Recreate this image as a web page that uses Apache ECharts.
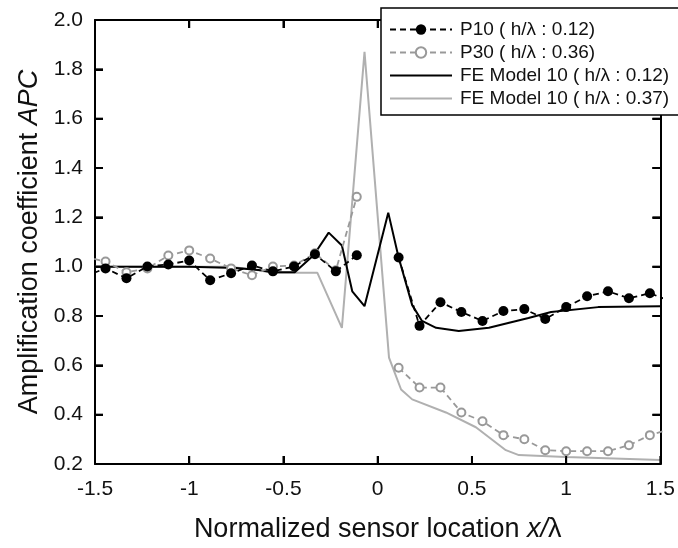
<!DOCTYPE html>
<html>
<head>
<meta charset="utf-8">
<script src="https://cdn.jsdelivr.net/npm/echarts@6/dist/echarts.min.js"></script>
<style>
html,body{margin:0;padding:0;background:#fff;}
#chart{width:678px;height:548px;}
</style>
</head>
<body>
<div id="chart"></div>
<script>
// ---- data ----
const xTicks = [-1.5, -1, -0.5, 0, 0.5, 1, 1.5];
const yTicks = [0.2, 0.4, 0.6, 0.8, 1.0, 1.2, 1.4, 1.6, 1.8, 2.0];

const seriesNames = [
  'P10 ( h/λ : 0.12)',
  'P30 ( h/λ : 0.36)',
  'FE Model 10 ( h/λ : 0.12)',
  'FE Model 10 ( h/λ : 0.37)'
];

// measured sensor positions (x/λ)
const xSensors = [-1.556,-1.444,-1.333,-1.222,-1.111,-1.0,-0.889,-0.778,-0.667,-0.556,-0.444,-0.333,-0.222,-0.111,0,
  0.111,0.222,0.333,0.444,0.556,0.667,0.778,0.889,1.0,1.111,1.222,1.333,1.444,1.556];
const p10 = [0.96,0.993,0.953,1.001,1.009,1.025,0.945,0.973,1.005,0.981,1.001,1.05,0.981,1.046,null,
  1.037,0.760,0.856,0.816,0.780,0.82,0.828,0.788,0.836,0.88,0.9,0.872,0.892,0.86];
const p30 = [1.04,1.021,0.977,0.993,1.045,1.066,1.033,0.993,0.965,1.001,1.005,1.054,0.985,1.283,null,
  0.59,0.51,0.51,0.409,0.373,0.317,0.30,0.256,0.252,0.252,0.252,0.276,0.317,0.343];

// FE model 10 (h/λ 0.12)
const xFE1 = [-1.5,-1.0,-0.75,-0.62,-0.56,-0.44,-0.34,-0.26,-0.19,-0.135,-0.07,0.056,0.11,0.183,0.235,0.31,0.43,0.59,0.80,0.92,1.17,1.5];
const yFE1 = [1.0,1.0,0.995,0.985,0.977,0.977,1.046,1.138,1.086,0.90,0.84,1.219,1.04,0.844,0.78,0.752,0.739,0.752,0.792,0.816,0.836,0.84];

// FE model 10 (h/λ 0.37)
const xFE2 = [-1.5,-0.79,-0.67,-0.56,-0.32,-0.19,-0.07,0.06,0.124,0.183,0.362,0.521,0.68,0.749,0.997,1.172,1.5];
const yFE2 = [1.0,1.0,0.99,0.975,0.975,0.752,1.871,0.631,0.502,0.462,0.409,0.349,0.256,0.236,0.228,0.224,0.216];

// ---- chart ----
const FONT = 'Liberation Sans, Arial, sans-serif';
const TICK_LEN = 8;
const pair = (xs, ys) => xs.map((x, i) => [x, ys[i] === null ? '-' : ys[i]]);

const mkLine = () => ({show: true, onZero: false, lineStyle: {color: '#000', width: 2}});
const mkTick = () => ({show: true, inside: true, length: TICK_LEN, lineStyle: {color: '#000', width: 2}});
const mkName = () => ({fontSize: 27, color: '#111', fontFamily: FONT,
  rich: {i: {fontSize: 27, fontStyle: 'italic', color: '#111', fontFamily: FONT}}});
const seg = (x1, y1, x2, y2) => ({type: 'line', shape: {x1, y1, x2, y2},
  style: {stroke: '#000', lineWidth: 2}});

const yMin = yTicks[0], yMax = yTicks[yTicks.length - 1];
const xMin = xTicks[0], xMax = xTicks[xTicks.length - 1];

const chart = echarts.init(document.getElementById('chart'), null, {renderer: 'canvas'});
chart.setOption({
  animation: false,
  backgroundColor: '#fff',
  textStyle: {fontFamily: FONT},
  grid: {left: 95, right: 16, top: 20, bottom: 81, containLabel: false},
  xAxis: [{
    type: 'value', position: 'bottom',
    min: xMin, max: xMax, interval: 0.5,
    axisLine: mkLine(), axisTick: mkTick(), splitLine: {show: false},
    axisLabel: {fontSize: 21, color: '#111', margin: 15, fontFamily: FONT},
    name: 'Normalized sensor location {i|x/}λ',
    nameLocation: 'middle', nameGap: 52,
    nameTextStyle: mkName()
  }, {
    type: 'value', position: 'top',
    min: xMin, max: xMax, interval: 0.5,
    axisLine: mkLine(), axisTick: mkTick(), splitLine: {show: false},
    axisLabel: {show: false}
  }],
  yAxis: [{
    type: 'value', position: 'left',
    min: yMin, max: yMax, interval: 0.2,
    axisLine: mkLine(), axisTick: mkTick(), splitLine: {show: false},
    axisLabel: {fontSize: 21, color: '#111', margin: 12, fontFamily: FONT,
      formatter: v => v.toFixed(1)},
    name: 'Amplification coefficient {i|APC}',
    nameLocation: 'middle', nameGap: 52,
    nameTextStyle: mkName()
  }, {
    type: 'value', position: 'right',
    min: yMin, max: yMax, interval: 0.2,
    axisLine: mkLine(), axisTick: mkTick(), splitLine: {show: false},
    axisLabel: {show: false}
  }],
  legend: {
    orient: 'vertical', left: 381, top: 8, z: 20,
    data: [
      {name: seriesNames[0]},
      {name: seriesNames[1]},
      {name: seriesNames[2], itemStyle: {opacity: 0}},
      {name: seriesNames[3], itemStyle: {opacity: 0}}
    ],
    itemWidth: 62, itemHeight: 13, itemGap: 4,
    padding: [12, 20, 7, 8],
    backgroundColor: '#fff', borderColor: '#000', borderWidth: 1.5, borderRadius: 0,
    textStyle: {fontSize: 19, color: '#111', fontFamily: FONT, padding: [0, 0, 0, 3]}
  },
  series: [{
    name: seriesNames[3], type: 'line', z: 2,
    data: pair(xFE2, yFE2), showSymbol: false, symbol: 'none',
    lineStyle: {color: '#b0b0b0', width: 2}, itemStyle: {color: '#b0b0b0'}
  }, {
    name: seriesNames[2], type: 'line', z: 3,
    data: pair(xFE1, yFE1), showSymbol: false, symbol: 'none',
    lineStyle: {color: '#000', width: 2}, itemStyle: {color: '#000'}
  }, {
    name: seriesNames[1], type: 'line', z: 4, clip: true,
    data: pair(xSensors, p30), symbol: 'emptyCircle', symbolSize: 8,
    connectNulls: false,
    lineStyle: {color: '#999', width: 1.8, type: [6, 4]},
    itemStyle: {color: '#999', borderWidth: 1.8}
  }, {
    name: seriesNames[0], type: 'line', z: 5, clip: true,
    data: pair(xSensors, p10), symbol: 'circle', symbolSize: 10,
    connectNulls: false,
    lineStyle: {color: '#000', width: 1.8, type: [6, 4]},
    itemStyle: {color: '#000'}
  }, {
    // inward tick marks on bottom and top frame, placed through the axis scale
    name: 'xTickMarks', type: 'custom', z: 6, silent: true, clip: false,
    data: xTicks.map(v => [v, yMin]),
    renderItem: (params, api) => {
      const v = api.value(0);
      const b = api.coord([v, yMin]);
      const t = api.coord([v, yMax]);
      return {type: 'group', children: [
        seg(b[0], b[1], b[0], b[1] - TICK_LEN),
        seg(t[0], t[1], t[0], t[1] + TICK_LEN)
      ]};
    }
  }, {
    // inward tick marks on left and right frame
    name: 'yTickMarks', type: 'custom', z: 6, silent: true, clip: false,
    data: yTicks.map(v => [xMin, v]),
    renderItem: (params, api) => {
      const v = api.value(1);
      const l = api.coord([xMin, v]);
      const r = api.coord([xMax, v]);
      return {type: 'group', children: [
        seg(l[0], l[1], l[0] + TICK_LEN, l[1]),
        seg(r[0], r[1], r[0] - TICK_LEN, r[1])
      ]};
    }
  }]
});
</script>
</body>
</html>
